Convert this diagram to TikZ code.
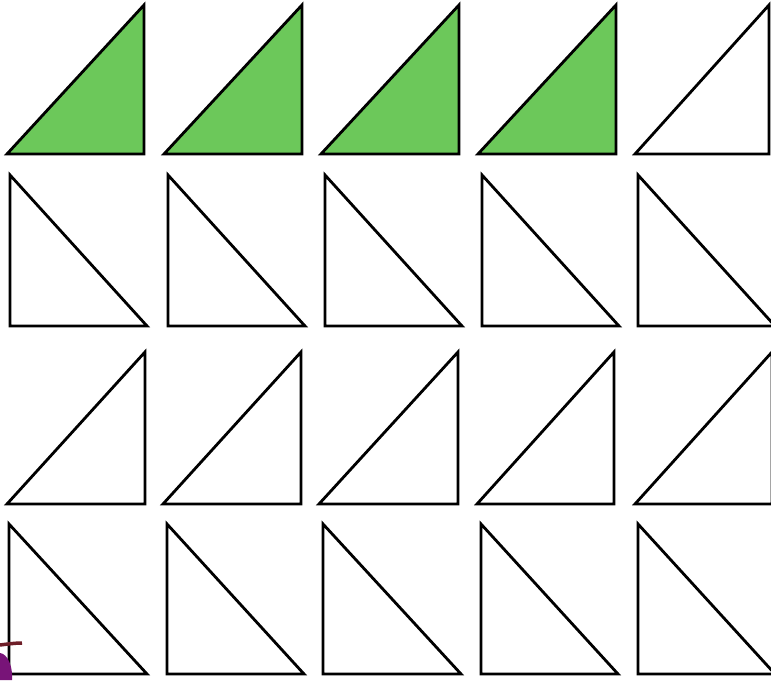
\documentclass[tikz,border=0pt]{standalone}
\definecolor{trigreen}{RGB}{108,200,90}
\definecolor{blobpurple}{RGB}{120,20,120}
\definecolor{blobbrown}{RGB}{110,30,40}
\begin{document}
\begin{tikzpicture}[x=1pt,y=-1pt,
  tri/.style={draw=black,line width=2.8pt,line join=miter},
  greentri/.style={tri,fill=trigreen}]
\useasboundingbox (0,0) rectangle (771,680);
\fill[white] (0,0) rectangle (771,680);
% Row 1 (right angle bottom-right)
\foreach \l/\r [count=\i] in {7/144,164/302,321/459,478/616,635/769}{
  \ifnum\i<5
    \draw[greentri] (\l,154) -- (\r,154) -- (\r,5) -- cycle;
  \else
    \draw[tri] (\l,154) -- (\r,154) -- (\r,5) -- cycle;
  \fi
}
% Row 2 (right angle bottom-left)
\foreach \l/\r in {10/147,168/305,325/462,482/619,638/775}{
  \draw[tri] (\l,175) -- (\l,326) -- (\r,326) -- cycle;
}
% Row 3
\foreach \l/\r in {7/145,163/301,319/458,477/614,635/772}{
  \draw[tri] (\l,504) -- (\r,504) -- (\r,352) -- cycle;
}
% Row 4
\foreach \l/\r in {9/147,167/304,323/461,481/618,638/775}{
  \draw[tri] (\l,524) -- (\l,674) -- (\r,674) -- cycle;
}
% purple object at lower left
\fill[blobpurple] (0,653) .. controls (8,654) and (13,667) .. (12,680) -- (0,680) -- cycle;
\draw[blobbrown,line width=3.5pt] (0,645) .. controls (8,644) and (15,643) .. (22,643);
\end{tikzpicture}
\end{document}
